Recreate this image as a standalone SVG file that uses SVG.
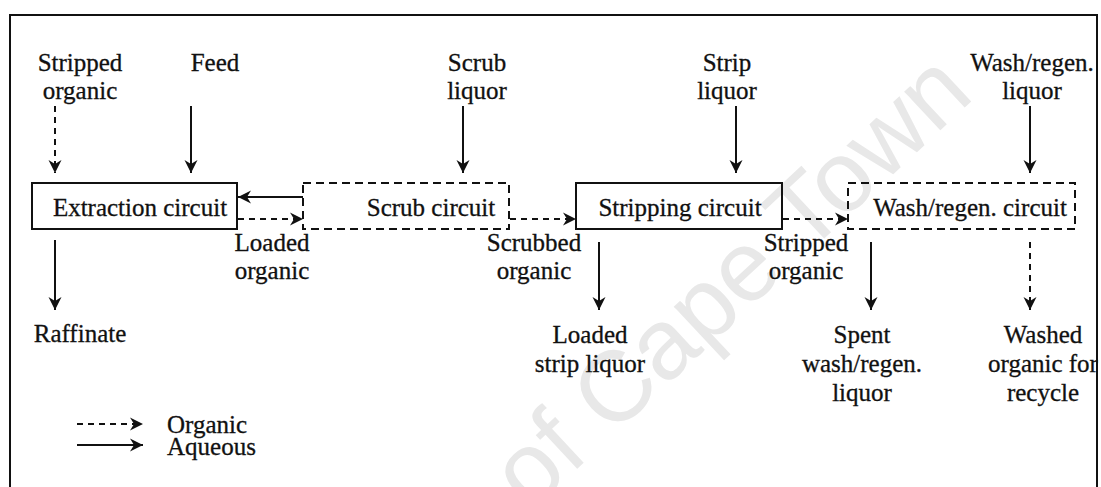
<svg xmlns="http://www.w3.org/2000/svg" width="1101" height="487" viewBox="0 0 1101 487">
<defs>
<style>
text{font-family:"Liberation Serif","Times New Roman",serif;font-size:25px;fill:#111;stroke:#111;stroke-width:0.3;text-anchor:middle}
.wm{font-family:"Liberation Sans",Arial,sans-serif;font-size:100px;fill:#e8e8e8;stroke:none;text-anchor:end}
.box{fill:none;stroke:#111;stroke-width:2}
.dbox{fill:none;stroke:#111;stroke-width:2;stroke-dasharray:8 5}
.aq{fill:none;stroke:#111;stroke-width:2;marker-end:url(#ah)}
.org{fill:none;stroke:#111;stroke-width:2;stroke-dasharray:6 5;marker-end:url(#ah)}
.frame{fill:none;stroke:#111;stroke-width:2}
</style>
<marker id="ah" markerUnits="userSpaceOnUse" markerWidth="16" markerHeight="16" viewBox="-14 -8 16 16" refX="0" refY="0" orient="auto">
<path d="M0,0 L-13,-6.5 L-9,0 L-13,6.5 Z" fill="#111"/>
</marker>
</defs>
<rect width="1101" height="487" fill="#fff"/>
<text class="wm" transform="translate(976,97) rotate(-43)">University of Cape Town</text>
<path class="frame" d="M10,487 V15 H1097 V487"/>

<g id="extraction"><rect class="box" x="32" y="183" width="205" height="46"/><text x="140" y="216">Extraction circuit</text></g>
<g id="scrub"><rect class="dbox" x="303" y="183" width="206" height="46"/><text x="431" y="216">Scrub circuit</text></g>
<g id="stripping"><rect class="box" x="576" y="183" width="206" height="46"/><text x="680" y="216">Stripping circuit</text></g>
<g id="wash"><rect class="dbox" x="848" y="183" width="227" height="46"/><text x="970" y="216">Wash/regen. circuit</text></g>

<g id="in-stripped-organic"><text x="80" y="71">Stripped</text><text x="80" y="99">organic</text></g>
<g id="in-feed"><text x="215" y="71">Feed</text></g>
<g id="in-scrub-liquor"><text x="477" y="71">Scrub</text><text x="477" y="99">liquor</text></g>
<g id="in-strip-liquor"><text x="727" y="71">Strip</text><text x="727" y="99">liquor</text></g>
<g id="in-wash-liquor"><text x="1032" y="71">Wash/regen.</text><text x="1032" y="99">liquor</text></g>

<g id="lbl-loaded-organic"><text x="272" y="251">Loaded</text><text x="272" y="279">organic</text></g>
<g id="lbl-scrubbed-organic"><text x="534" y="251">Scrubbed</text><text x="534" y="279">organic</text></g>
<g id="lbl-stripped-organic"><text x="806" y="251">Stripped</text><text x="806" y="279">organic</text></g>

<g id="out-raffinate"><text x="80" y="342">Raffinate</text></g>
<g id="out-loaded-strip"><text x="590" y="343">Loaded</text><text x="590" y="372">strip liquor</text></g>
<g id="out-spent"><text x="862" y="343">Spent</text><text x="862" y="372">wash/regen.</text><text x="862" y="401">liquor</text></g>
<g id="out-washed"><text x="1043" y="343">Washed</text><text x="1043" y="372">organic for</text><text x="1043" y="401">recycle</text></g>

<g id="legend">
<line class="org" x1="77" y1="424" x2="143" y2="424"/>
<line class="aq" x1="77" y1="445" x2="143" y2="445"/>
<text x="167" y="433" style="text-anchor:start">Organic</text>
<text x="167" y="455" style="text-anchor:start">Aqueous</text>
</g>

<g id="connectors">
<line class="org" x1="55" y1="106" x2="55" y2="173"/>
<line class="aq" x1="191" y1="106" x2="191" y2="173"/>
<line class="aq" x1="463" y1="106" x2="463" y2="173"/>
<line class="aq" x1="736" y1="106" x2="736" y2="173"/>
<line class="aq" x1="1030" y1="106" x2="1030" y2="173"/>
<line class="aq" x1="303" y1="197" x2="238" y2="197"/>
<line class="org" x1="238" y1="219" x2="303" y2="219"/>
<line class="org" x1="510" y1="219" x2="576" y2="219"/>
<line class="org" x1="783" y1="219" x2="848" y2="219"/>
<line class="aq" x1="55" y1="240" x2="55" y2="310"/>
<line class="aq" x1="599" y1="242" x2="599" y2="310"/>
<line class="aq" x1="871" y1="242" x2="871" y2="310"/>
<line class="org" x1="1030" y1="242" x2="1030" y2="310"/>
</g>
</svg>
